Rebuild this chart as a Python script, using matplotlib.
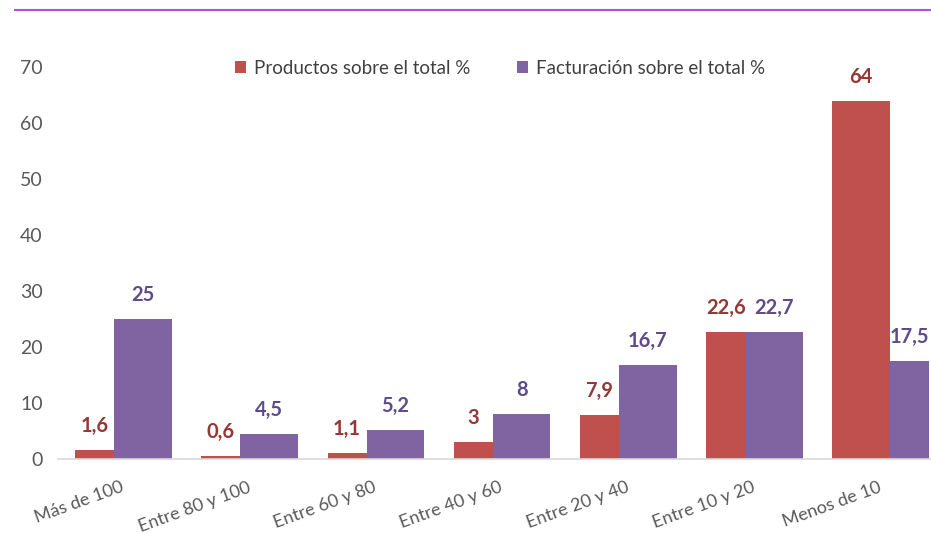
import matplotlib.pyplot as plt
from matplotlib.lines import Line2D
import numpy as np

plt.rcParams['font.family'] = ['Lato', 'DejaVu Sans']

# Data
categorias = ['Más de 100', 'Entre 80 y 100', 'Entre 60 y 80', 'Entre 40 y 60',
              'Entre 20 y 40', 'Entre 10 y 20', 'Menos de 10']
productos = [1.6, 0.6, 1.1, 3, 7.9, 22.6, 64]
facturacion = [25, 4.5, 5.2, 8, 16.7, 22.7, 17.5]
etiquetas_prod = ['1,6', '0,6', '1,1', '3', '7,9', '22,6', '64']
etiquetas_fact = ['25', '4,5', '5,2', '8', '16,7', '22,7', '17,5']

rojo = '#C0504D'
morado = '#8064A2'

fig = plt.figure(figsize=(9.31, 5.33), dpi=100)
ax = fig.add_axes([58 / 931, 1 - 459 / 533, 1 - 58 / 931, 420 / 533])

x = np.arange(len(categorias))
# bar widths as they appear in the reference (last group swapped)
w_small, w_big = 0.309, 0.456
w_prod = np.array([w_small] * 6 + [w_big])
w_fact = np.array([w_big] * 6 + [w_small])
left = x - (w_small + w_big) / 2

b1 = ax.bar(left, productos, width=w_prod, align='edge', color=rojo,
            label='Productos sobre el total %')
b2 = ax.bar(left + w_prod, facturacion, width=w_fact, align='edge', color=morado,
            label='Facturación sobre el total %')

for bar, txt in zip(b1, etiquetas_prod):
    ax.annotate(txt, (bar.get_x() + bar.get_width() / 2, bar.get_height()),
                xytext=(0, 13), textcoords='offset points', ha='center',
                va='baseline', fontsize=14.5, fontweight='bold', color='#953735')
for bar, txt in zip(b2, etiquetas_fact):
    ax.annotate(txt, (bar.get_x() + bar.get_width() / 2, bar.get_height()),
                xytext=(0, 13), textcoords='offset points', ha='center',
                va='baseline', fontsize=14.5, fontweight='bold', color='#5F4B8B')

ax.set_xlim(-0.519, 6.399)
ax.set_ylim(0, 75)
ax.set_yticks(range(0, 71, 10))
ax.tick_params(axis='y', length=0, pad=11, labelsize=14, labelcolor='#595959')
ax.set_xticks(x)
ax.set_xticklabels(categorias, rotation=20, ha='right', va='center',
                   rotation_mode='anchor', fontsize=13, color='#595959')
ax.tick_params(axis='x', length=0, pad=20)

for s in ['top', 'right', 'left']:
    ax.spines[s].set_visible(False)
ax.spines['bottom'].set_color('#D9D9D9')
ax.spines['bottom'].set_linewidth(1.2)

ax.legend(loc='center', bbox_to_anchor=(500 / 931, 1 - 68 / 533),
          bbox_transform=fig.transFigure, ncol=2, frameon=False,
          handlelength=0.6, handleheight=0.6, handletextpad=0.4,
          columnspacing=2.5, fontsize=13.5, labelcolor='#404040')

# thin purple rule at the top
fig.add_artist(Line2D([15 / 931, 1], [1 - 10 / 533, 1 - 10 / 533],
                      color='#B44FE0', linewidth=1.5))

fig.savefig('out.png', dpi=100)
